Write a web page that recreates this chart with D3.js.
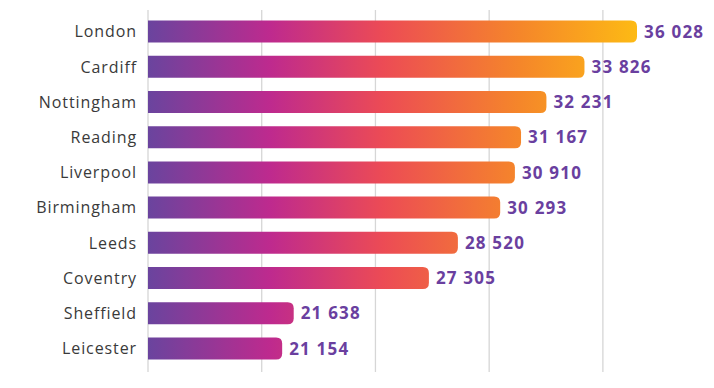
<!DOCTYPE html>
<html>
<head>
<meta charset="utf-8">
<script src="https://cdn.jsdelivr.net/npm/d3@7"></script>
<style>
  html, body { margin: 0; padding: 0; background: #fff; }
  svg { display: block; }
</style>
</head>
<body>
<svg id="chart" width="714" height="388"></svg>
<script>
// ----- data -----
const cities = ["London", "Cardiff", "Nottingham", "Reading", "Liverpool",
                "Birmingham", "Leeds", "Coventry", "Sheffield", "Leicester"];
const values = [36028, 33826, 32231, 31167, 30910, 30293, 28520, 27305, 21638, 21154];

// axis starts well above zero in the original
const axisMin = 15530;
const gridStep = 4767;
const gridCount = 5;

// ----- layout -----
const width = 714, height = 388;
const left = 148;
const svg = d3.select("#chart");

const x = d3.scaleLinear()
    .domain([axisMin, 36028])
    .range([left, 637]);

const y = d3.scaleBand()
    .domain(cities)
    .range([9, 371])
    .paddingInner(0.375)
    .paddingOuter(0.33);

const fmt = v => d3.format(",")(v).replace(/,/g, " ");

// gradient spans the whole plot, not each bar
const defs = svg.append("defs");
const grad = defs.append("linearGradient")
    .attr("id", "barGrad")
    .attr("gradientUnits", "userSpaceOnUse")
    .attr("x1", x(axisMin)).attr("x2", x(36028))
    .attr("y1", 0).attr("y2", 0);
[
    [0, "#6a449e"],
    [0.25, "#be2a8e"],
    [0.48, "#ec4b55"],
    [0.76, "#f5862a"],
    [1, "#fdba14"]
].forEach(([o, c]) => grad.append("stop").attr("offset", o).attr("stop-color", c));

// gridlines
const gridVals = d3.range(gridCount).map(i => axisMin + i * gridStep);
svg.append("g")
    .selectAll("line")
    .data(gridVals)
    .join("line")
    .attr("x1", d => x(d)).attr("x2", d => x(d))
    .attr("y1", 10).attr("y2", 372)
    .attr("stroke", "#d6d6d6")
    .attr("stroke-width", 1.3);

// bars: square left edge, rounded right end
const r = 6;
function barPath(d, i) {
    const x0 = x(axisMin), x1 = x(d), y0 = y(cities[i]), h = y.bandwidth();
    return `M${x0},${y0} H${x1 - r} Q${x1},${y0} ${x1},${y0 + r} V${y0 + h - r} Q${x1},${y0 + h} ${x1 - r},${y0 + h} H${x0} Z`;
}
svg.append("g")
    .selectAll("path")
    .data(values)
    .join("path")
    .attr("d", barPath)
    .attr("fill", "url(#barGrad)");

// city labels
svg.append("g")
    .selectAll("text")
    .data(cities)
    .join("text")
    .attr("x", 137)
    .attr("y", d => y(d) + y.bandwidth() / 2)
    .attr("dy", "0.36em")
    .attr("text-anchor", "end")
    .attr("font-family", "'Open Sans', sans-serif")
    .attr("font-size", 16)
    .attr("letter-spacing", 0.9)
    .attr("fill", "#3a3a3a")
    .text(d => d);

// value labels
svg.append("g")
    .selectAll("text")
    .data(values)
    .join("text")
    .attr("x", d => x(d) + 7)
    .attr("y", (d, i) => y(cities[i]) + y.bandwidth() / 2)
    .attr("dy", "0.37em")
    .attr("font-family", "'Open Sans', sans-serif")
    .attr("font-weight", 700)
    .attr("font-size", 17)
    .attr("letter-spacing", 1.2)
    .attr("fill", "#6a3f9f")
    .text(fmt);
</script>
</body>
</html>
